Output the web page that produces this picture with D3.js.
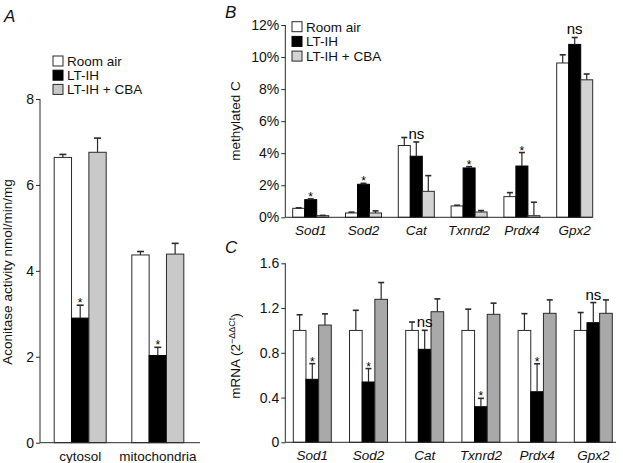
<!DOCTYPE html>
<html><head><meta charset="utf-8">
<script src="https://cdn.jsdelivr.net/npm/d3@7/dist/d3.min.js"></script>
<style>
body{margin:0;background:#fff;}
svg{display:block;font-family:"Liberation Sans",Arial,Helvetica,sans-serif;}
</style></head>
<body>
<svg id="chart" width="623" height="463"></svg>
<script>
// ---------- DATA ----------
const seriesNames = ["Room air", "LT-IH", "LT-IH + CBA"];

// Panel A: aconitase activity (nmol/min/mg)
const aCategories = ["cytosol", "mitochondria"];
const aRoomAir = [6.64, 4.37];
const aRoomAirErr = [0.07, 0.08];
const aLTIH = [2.90, 2.03];
const aLTIHErr = [0.30, 0.19];
const aCBA = [6.76, 4.39];
const aCBAErr = [0.33, 0.25];
const aSig = ["*", "*"];
const aTicks = [0, 2, 4, 6, 8];

// Panel B: methylated C (%)
const genes = ["Sod1", "Sod2", "Cat", "Txnrd2", "Prdx4", "Gpx2"];
const bRoomAir = [0.56, 0.27, 4.48, 0.71, 1.29, 9.63];
const bRoomAirErr = [0.03, 0.05, 0.50, 0.04, 0.25, 0.51];
const bLTIH = [1.10, 2.06, 3.81, 3.08, 3.20, 10.79];
const bLTIHErr = [0.05, 0.06, 0.89, 0.08, 0.84, 0.43];
const bCBA = [0.10, 0.27, 1.62, 0.33, 0.10, 8.58];
const bCBAErr = [0.02, 0.13, 0.98, 0.09, 0.84, 0.36];
const bSig = ["*", "*", "ns", "*", "*", "ns"];
const bTicks = [0, 2, 4, 6, 8, 10, 12];

// Panel C: mRNA (2^-ΔΔCt)
const cRoomAir = [1.00, 1.00, 1.00, 1.00, 1.00, 1.00];
const cRoomAirErr = [0.14, 0.18, 0.075, 0.19, 0.15, 0.16];
const cLTIH = [0.563, 0.539, 0.831, 0.318, 0.452, 1.069];
const cLTIHErr = [0.14, 0.12, 0.17, 0.075, 0.25, 0.18];
const cCBA = [1.048, 1.278, 1.167, 1.144, 1.153, 1.153];
const cCBAErr = [0.10, 0.15, 0.115, 0.10, 0.12, 0.12];
const cSig = ["*", "*", "ns", "*", "*", "ns"];
const cTicks = [0, 0.4, 0.8, 1.2, 1.6];

// ---------- DRAW ----------
const svg = d3.select("#chart");
const STROKE = "#2a2a2a";

function panel(cfg) {
  const g = svg.append("g");
  const x = d3.scaleBand().domain(cfg.cats).range(cfg.xRange)
    .paddingInner(cfg.pi).paddingOuter(cfg.po);
  const xs = d3.scaleBand().domain(seriesNames).range([0, x.bandwidth()]);
  const y = d3.scaleLinear().domain(cfg.yDomain).range(cfg.yRange);

  const rows = [];
  cfg.cats.forEach((c, i) => {
    cfg.series.forEach((s, k) => {
      rows.push({cat: c, ser: seriesNames[k], k, v: s.v[i], e: s.e[i], i});
    });
  });

  // bars
  g.selectAll("rect.bar").data(rows).join("rect")
    .attr("x", d => x(d.cat) + xs(d.ser))
    .attr("y", d => y(d.v))
    .attr("width", xs.bandwidth())
    .attr("height", d => y(0) - y(d.v))
    .attr("fill", d => cfg.colors[d.k])
    .attr("stroke", d => d.k === 1 ? "#000" : STROKE)
    .attr("stroke-width", 1);

  // error bars (upper only)
  const cap = cfg.cap;
  const eb = g.selectAll("g.eb").data(rows).join("g");
  eb.append("line")
    .attr("x1", d => x(d.cat) + xs(d.ser) + xs.bandwidth() / 2)
    .attr("x2", d => x(d.cat) + xs(d.ser) + xs.bandwidth() / 2)
    .attr("y1", d => y(d.v))
    .attr("y2", d => y(d.v + d.e))
    .attr("stroke", STROKE).attr("stroke-width", 1.2);
  eb.append("line")
    .attr("x1", d => x(d.cat) + xs(d.ser) + xs.bandwidth() / 2 - cap / 2)
    .attr("x2", d => x(d.cat) + xs(d.ser) + xs.bandwidth() / 2 + cap / 2)
    .attr("y1", d => y(d.v + d.e))
    .attr("y2", d => y(d.v + d.e))
    .attr("stroke", STROKE).attr("stroke-width", 1.6);

  // significance labels above LT-IH bars
  const sigRows = rows.filter(d => d.k === 1);
  g.selectAll("text.sig").data(sigRows).join("text")
    .attr("x", d => x(d.cat) + xs(d.ser) + xs.bandwidth() / 2)
    .attr("y", d => {
      const top = y(d.v + d.e);
      return cfg.sig[d.i] === "ns" ? top - 3 : top + 2;
    })
    .attr("text-anchor", "middle")
    .attr("font-size", d => cfg.sig[d.i] === "ns" ? 15 : 12)
    .attr("fill", "#000")
    .text(d => cfg.sig[d.i]);

  // y axis
  const ya = d3.axisLeft(y).tickValues(cfg.yTicks).tickSize(4).tickSizeOuter(0)
    .tickFormat(cfg.tickFmt);
  const yg = g.append("g").attr("transform", `translate(${cfg.axisX},0)`).call(ya);
  yg.select(".domain").attr("stroke", STROKE).attr("d", `M0,${cfg.yRange[0]}V${cfg.yRange[1]}`);
  yg.selectAll(".tick line").attr("stroke", STROKE);
  yg.selectAll(".tick text").attr("font-size", 14).attr("fill", "#111")
    .attr("font-family", '"Liberation Sans",Arial,sans-serif').attr("x", -6);

  // x axis baseline
  g.append("line").attr("x1", cfg.axisX).attr("x2", cfg.xAxisEnd)
    .attr("y1", y(0)).attr("y2", y(0)).attr("stroke", STROKE).attr("stroke-width", 1);

  // x labels
  g.selectAll("text.xl").data(cfg.cats).join("text")
    .attr("x", d => x(d) + x.bandwidth() / 2)
    .attr("y", y(0) + 18)
    .attr("text-anchor", "middle")
    .attr("font-size", 13.5)
    .attr("font-style", cfg.italicX ? "italic" : "normal")
    .attr("fill", "#111")
    .text(d => d);

  // panel letter
  g.append("text").attr("x", cfg.letterPos[0]).attr("y", cfg.letterPos[1])
    .attr("font-size", 17).attr("font-style", "italic").attr("fill", "#111")
    .text(cfg.letter);

  // y label
  const yl = g.append("text")
    .attr("transform", `translate(${cfg.ylabelPos[0]},${cfg.ylabelPos[1]}) rotate(-90)`)
    .attr("text-anchor", "middle").attr("font-size", 13.5).attr("fill", "#111");
  cfg.ylabel(yl);

  // legend
  if (cfg.legend) {
    const lg = g.append("g");
    seriesNames.forEach((n, k) => {
      const yy = cfg.legend.y + k * cfg.legend.dy;
      lg.append("rect").attr("x", cfg.legend.x).attr("y", yy - 5).attr("width", 10).attr("height", 10)
        .attr("fill", cfg.colors[k]).attr("stroke", k === 1 ? "#000" : STROKE).attr("stroke-width", 1);
      lg.append("text").attr("x", cfg.legend.x + 14).attr("y", yy + 5)
        .attr("font-size", 13.5).attr("fill", "#111").text(n);
    });
  }
}

panel({
  cats: aCategories,
  series: [{v: aRoomAir, e: aRoomAirErr}, {v: aLTIH, e: aLTIHErr}, {v: aCBA, e: aCBAErr}],
  sig: aSig,
  colors: ["#fff", "#000", "#c9c9c9"],
  xRange: [41, 197], pi: 0.33, po: 0.17,
  yDomain: [0, 8], yRange: [442.7, 99], yTicks: aTicks, tickFmt: d3.format("d"),
  axisX: 40, xAxisEnd: 200, cap: 7, italicX: false,
  letter: "A", letterPos: [4, 22],
  ylabelPos: [12, 272],
  ylabel: t => t.text("Aconitase activity nmol/min/mg"),
  legend: {x: 53, y: 61, dy: 14.2}
});

panel({
  cats: genes,
  series: [{v: bRoomAir, e: bRoomAirErr}, {v: bLTIH, e: bLTIHErr}, {v: bCBA, e: bCBAErr}],
  sig: bSig,
  colors: ["#fff", "#000", "#d3d3d3"],
  xRange: [284.3, 601.1], pi: 0.318, po: 0.159,
  yDomain: [0, 12], yRange: [217.3, 25], yTicks: bTicks, tickFmt: d => d + "%",
  axisX: 285.3, xAxisEnd: 592, cap: 6, italicX: true,
  letter: "B", letterPos: [225, 18],
  ylabelPos: [240, 121],
  ylabel: t => t.text("methylated C"),
  legend: {x: 292, y: 26.7, dy: 14.7}
});

panel({
  cats: genes,
  series: [{v: cRoomAir, e: cRoomAirErr}, {v: cLTIH, e: cLTIHErr}, {v: cCBA, e: cCBAErr}],
  sig: cSig,
  colors: ["#fff", "#000", "#a9a9a9"],
  xRange: [284.2, 621.4], pi: 0.324, po: 0.162,
  yDomain: [0, 1.6], yRange: [442.3, 263.3], yTicks: cTicks, tickFmt: d => d === 0 ? "0" : d3.format(".1f")(d),
  axisX: 285.3, xAxisEnd: 616, cap: 6, italicX: true,
  letter: "C", letterPos: [225, 253],
  ylabelPos: [240, 356],
  ylabel: t => {
    t.append("tspan").text("mRNA (2");
    t.append("tspan").attr("font-size", 9).attr("dy", -5).text("\u2212\u0394\u0394Ct");
    t.append("tspan").attr("dy", 5).text(")");
  },
  legend: null
});
</script>
</body></html>
